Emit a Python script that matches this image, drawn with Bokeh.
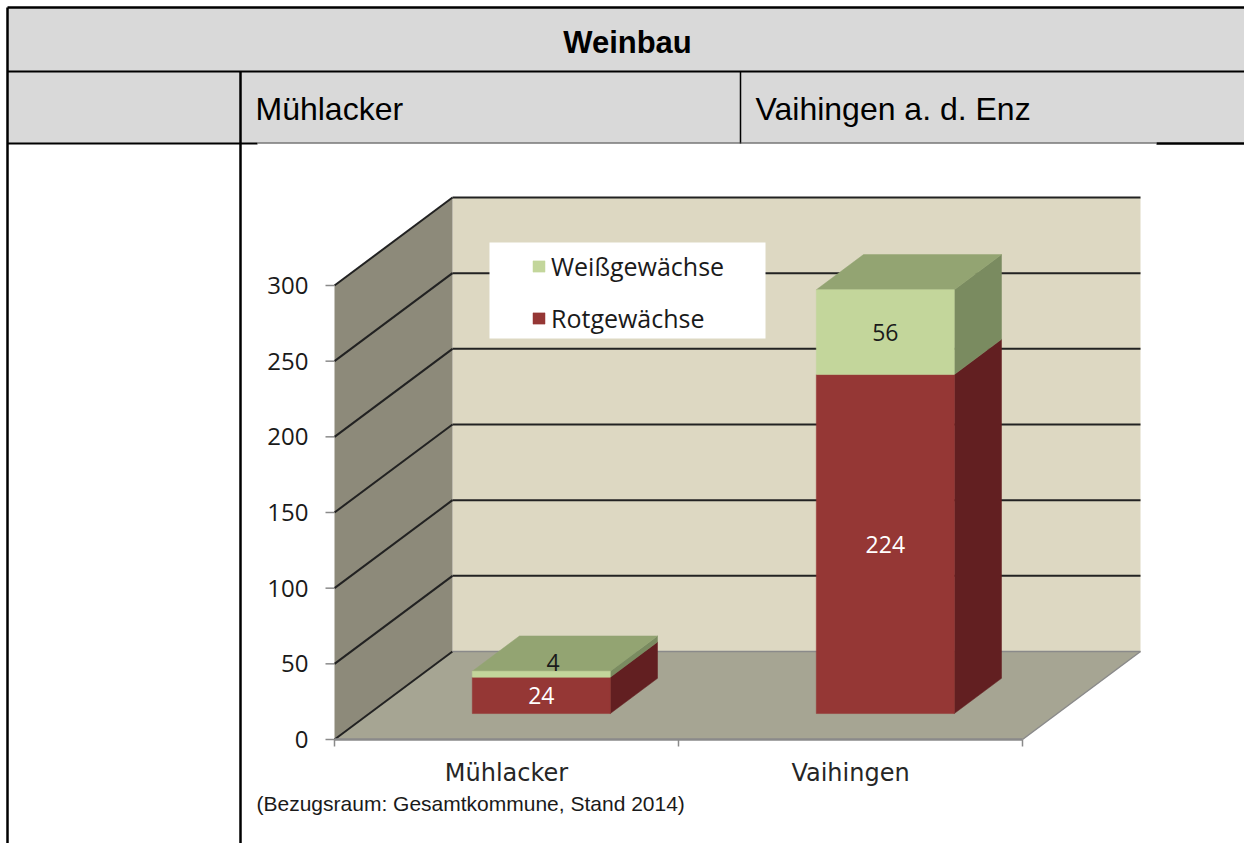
from bokeh.plotting import figure
from bokeh.models import Range1d, ColumnDataSource, Legend, LegendItem
from bokeh.core.properties import value
from bokeh.embed import file_html
from bokeh.resources import INLINE

# ---------------- data ----------------
categories = ["Mühlacker", "Vaihingen"]
rotgewaechse = [24, 224]
weissgewaechse = [4, 56]
y_ticks = [0, 50, 100, 150, 200, 250, 300]
series_names = ["Weißgewächse", "Rotgewächse"]
table_title = "Weinbau"
table_columns = ["Mühlacker", "Vaihingen a. d. Enz"]
caption = "(Bezugsraum: Gesamtkommune, Stand 2014)"

# ---------------- layout constants (page pixels) ----------------
W, H, OFF = 1244, 843, 0
X0, SX = 334, 344.0          # page x of category axis origin, px per category
Y0, SY = 739, 454 / 300.0    # page y of value 0, px per unit
DX, DY = 118 / SX, 88 / SY   # full depth vector in data units
BAR_W = 138 / SX
D0, D1 = 0.295, 0.695        # bar depth span (fraction of full depth)
n = len(categories)
ymax = y_ticks[-1]

FONT = value("Open Sans")

p = figure(width=W, height=H, output_backend="svg", toolbar_location=None,
           x_range=Range1d((OFF - X0) / SX, (OFF + W - X0) / SX),
           y_range=Range1d((Y0 - (OFF + H)) / SY, (Y0 - OFF) / SY),
           x_axis_type=None, y_axis_type=None, min_border=0)
p.grid.visible = False
p.outline_line_color = None
p.background_fill_color = "white"
p.border_fill_color = "white"
p.extra_x_ranges = {"page": Range1d(OFF, OFF + W)}
p.extra_y_ranges = {"page": Range1d(OFF + H, OFF)}
PG = dict(x_range_name="page", y_range_name="page")


def proj(x, y, d):
    return x + d * DX, y + d * DY


def poly(pts):
    return [q[0] for q in pts], [q[1] for q in pts]

# ---------------- table ----------------
p.quad(left=7, right=1250, top=7, bottom=143, fill_color="#d9d9d9", line_color=None, **PG)
tl = [  # x0, y0, x1, y1, width
    (7, 7, 1250, 7, 2.5), (7, 71, 1250, 71, 2), (7, 7, 7, 850, 2.5),
    (240, 71, 240, 850, 2.5), (740, 71, 740, 143, 1.5),
    (7, 143, 257, 143, 2), (1156, 143, 1250, 143, 2.5),
]
p.segment(x0=[t[0] for t in tl], y0=[t[1] for t in tl], x1=[t[2] for t in tl],
          y1=[t[3] for t in tl], line_width=[t[4] for t in tl], line_color="black", **PG)
p.segment(x0=[257], y0=[142.5], x1=[1156], y1=[142.5], line_color="#444444", line_width=1, **PG)
p.text(x=[627], y=[42], text=[table_title], text_font=value("Liberation Sans"),
       text_font_style="bold", text_font_size="31px", text_align="center",
       text_baseline="middle", text_color="black", **PG)
p.text(x=[255, 755], y=[108, 108], text=table_columns, text_font=value("Liberation Sans"),
       text_font_size="32px", text_align="left", text_baseline="middle", text_color="black", **PG)
p.text(x=[256], y=[803], text=[caption], text_font=value("Liberation Sans"),
       text_font_size="21px", text_align="left", text_baseline="middle", text_color="#1a1a1a", **PG)

# ---------------- 3D chart walls ----------------
bx, by = poly([proj(0, 0, 1), proj(n, 0, 1), proj(n, ymax, 1), proj(0, ymax, 1)])
p.patch(bx, by, fill_color="#ddd8c2", line_color=None)
lx, ly = poly([proj(0, 0, 0), proj(0, 0, 1), proj(0, ymax, 1), proj(0, ymax, 0)])
p.patch(lx, ly, fill_color="#8d8a7a", line_color=None)
fx, fy = poly([proj(0, 0, 0), proj(n, 0, 0), proj(n, 0, 1), proj(0, 0, 1)])
p.patch(fx, fy, fill_color="#a6a593", line_color=None)

# gridlines (back wall + left wall)
gv = [v for v in y_ticks if v > 0]
p.segment(x0=[proj(0, v, 1)[0] for v in gv], y0=[proj(0, v, 1)[1] for v in gv],
          x1=[proj(n, v, 1)[0] for v in gv], y1=[proj(n, v, 1)[1] for v in gv],
          line_color="#222222", line_width=2)
p.segment(x0=[proj(0, v, 0)[0] for v in y_ticks], y0=[proj(0, v, 0)[1] for v in y_ticks],
          x1=[proj(0, v, 1)[0] for v in y_ticks], y1=[proj(0, v, 1)[1] for v in y_ticks],
          line_color="#222222", line_width=2)
# floor edges
edges = [(proj(0, 0, 1), proj(n, 0, 1)), (proj(n, 0, 0), proj(n, 0, 1)), (proj(0, 0, 0), proj(n, 0, 0))]
p.segment(x0=[e[0][0] for e in edges], y0=[e[0][1] for e in edges],
          x1=[e[1][0] for e in edges], y1=[e[1][1] for e in edges],
          line_color="#8a8a8a", line_width=[1.5, 1.5, 2.5])

# axis ticks
p.segment(x0=[-9 / SX] * len(y_ticks), y0=y_ticks, x1=[0] * len(y_ticks), y1=y_ticks,
          line_color="#8a8a8a", line_width=1.5)
p.segment(x0=list(range(n + 1)), y0=[0] * (n + 1), x1=list(range(n + 1)),
          y1=[-7 / SY] * (n + 1), line_color="#8a8a8a", line_width=1.5)
p.text(x=[-26 / SX] * len(y_ticks), y=y_ticks, text=[str(v) for v in y_ticks],
       text_font=FONT, text_font_size="24px", text_align="right", text_baseline="middle",
       text_color="#1a1a1a")
p.text(x=[i + 0.5 for i in range(n)], y=[-33 / SY] * n, text=categories,
       text_font=value("DejaVu Sans"), text_font_size="24px", text_align="center",
       text_baseline="middle", text_color="#262626")

# ---------------- bars ----------------
faces = {k: dict(xs=[], ys=[]) for k in ["rf", "rs", "gf", "gs", "gt"]}
lab = dict(x=[], y=[], text=[], color=[])
for i in range(n):
    cx = i + 0.5
    L, R = cx - BAR_W / 2, cx + BAR_W / 2
    segs = [("r", 0, rotgewaechse[i]), ("g", rotgewaechse[i], rotgewaechse[i] + weissgewaechse[i])]
    for key, y0, y1 in segs:
        x_, y_ = poly([proj(L, y0, D0), proj(R, y0, D0), proj(R, y1, D0), proj(L, y1, D0)])
        faces[key + "f"]["xs"].append(x_); faces[key + "f"]["ys"].append(y_)
        x_, y_ = poly([proj(R, y0, D0), proj(R, y0, D1), proj(R, y1, D1), proj(R, y1, D0)])
        faces[key + "s"]["xs"].append(x_); faces[key + "s"]["ys"].append(y_)
        seg_val = y1 - y0
        if seg_val * SY >= 20:
            lx_, ly_ = proj(cx, (y0 + y1) / 2, D0)
        else:
            lx_, ly_ = proj(cx, y1, D0 + 0.25 * (D1 - D0))
        lab["x"].append(lx_); lab["y"].append(ly_); lab["text"].append(str(seg_val))
        lab["color"].append("white" if key == "r" else "#1a1a1a")
    top = rotgewaechse[i] + weissgewaechse[i]
    x_, y_ = poly([proj(L, top, D0), proj(R, top, D0), proj(R, top, D1), proj(L, top, D1)])
    faces["gt"]["xs"].append(x_); faces["gt"]["ys"].append(y_)

colors = {"rf": "#953735", "rs": "#621f21", "gf": "#c3d69b", "gs": "#7a8b60", "gt": "#93a472"}
rend = {}
for k in ["rs", "gs", "gt", "rf", "gf"]:
    rend[k] = p.patches(xs="xs", ys="ys", source=ColumnDataSource(faces[k]),
                        fill_color=colors[k], line_color=colors[k], line_width=0.5)

p.text(x="x", y="y", text="text", text_color="color", source=ColumnDataSource(lab),
       text_font=FONT, text_font_size="23px", text_align="center", text_baseline="middle")

# ---------------- legend ----------------
p.quad(left=489, right=765, top=242, bottom=338, fill_color="white", line_color=None, **PG)
legend = Legend(items=[LegendItem(label=series_names[0], renderers=[rend["gf"]]),
                       LegendItem(label=series_names[1], renderers=[rend["rf"]])],
                location=(531, H - 335), orientation="vertical",
                glyph_width=15, glyph_height=14, label_standoff=5,
                label_height=34, spacing=18, padding=0, margin=0,
                label_text_font="Open Sans", label_text_font_size="25px", label_text_color="#1a1a1a",
                background_fill_alpha=0, border_line_alpha=0)
p.add_layout(legend)

open("out.html", "w").write(file_html(p, INLINE))
